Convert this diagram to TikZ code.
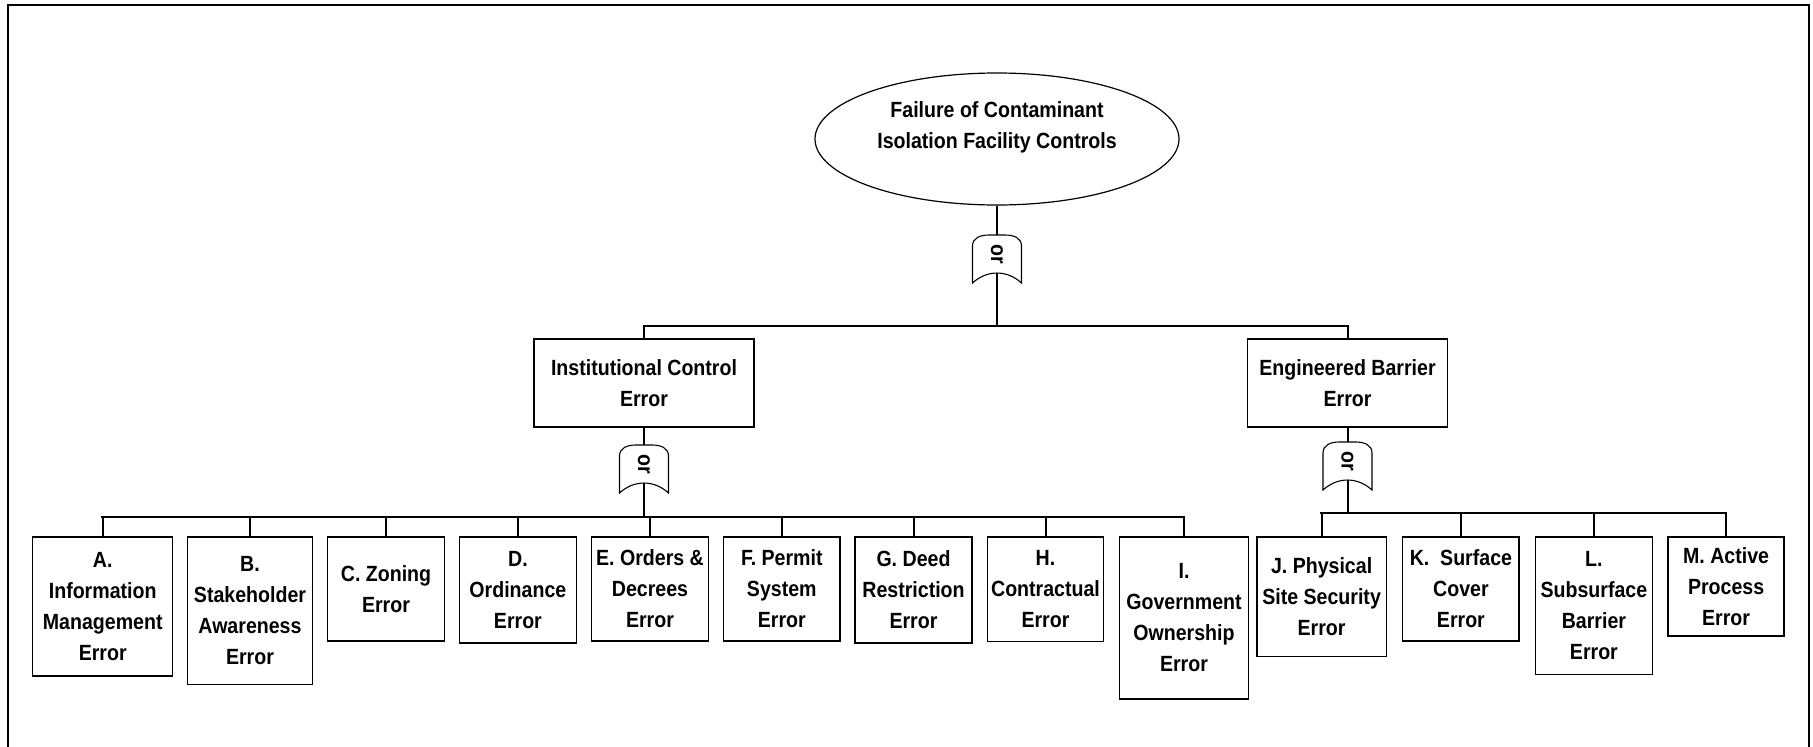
\documentclass[tikz,border=0pt]{standalone}
\usepackage{fontspec}
\setmainfont{Liberation Sans}[FakeStretch=0.89]
\usetikzlibrary{shapes.geometric}
\begin{document}
\begin{tikzpicture}[x=1pt,y=-1pt,
  every node/.style={font=\bfseries\fontsize{22}{31}\selectfont, align=center, inner sep=0pt},
  box/.style={draw, rectangle, line width=1.4pt},
  link/.style={line width=2pt},
  bus/.style={line width=2.6pt, line cap=rect},
  pics/orgate/.style={code={
    \draw[line width=1.1pt, fill=white]
      (-24.5,24) -- (-24.5,-13)
      .. controls (-24.5,-21) and (-17,-24) .. (-8,-24) -- (8,-24)
      .. controls (17,-24) and (24.5,-21) .. (24.5,-13) -- (24.5,24)
      .. controls (10,10.7) and (-10,10.7) .. (-24.5,24) -- cycle;
    \node[rotate=-90] (-lbl) at (0,-5) {or};
    \coordinate (-in) at (0,-24);
    \coordinate (-out) at (0,14);
  }}
]
\useasboundingbox (0,0) rectangle (1813,747);
% outer frame
\draw[line width=2.2pt] (8,760) -- (8,5) -- (1809,5) -- (1809,760);

% top event
\node[ellipse, draw, line width=1.2pt, minimum width=364pt, minimum height=132pt] (top) at (997,139) {};
\node (toptext) at (997,127) {Failure of Contaminant\\Isolation Facility Controls};
\pic (g1) at (997,259) {orgate};
\coordinate (bus1) at (997,326);

% intermediate events
\node[box, minimum width=220pt, minimum height=88pt] (inst) at (644,383) {Institutional Control\\Error};
\node[box, minimum width=200pt, minimum height=88pt] (eng) at (1347.5,383) {Engineered Barrier\\Error};
\pic (g2) at (644,469) {orgate};
\pic (g3) at (1347.5,466) {orgate};
\coordinate (bus2) at (644,517);
\coordinate (bus3) at (1347.5,513);

% basic events
\node[box, minimum width=140pt, minimum height=139pt] (a) at (102.7,606.5) {A.\\Information\\Management\\Error};
\node[box, minimum width=124.6pt, minimum height=147.3pt] (b) at (250,610.6) {B.\\Stakeholder\\Awareness\\Error};
\node[box, minimum width=116.6pt, minimum height=104pt] (c) at (386,589) {C. Zoning\\Error};
\node[box, minimum width=117pt, minimum height=106pt] (d) at (517.9,590) {D.\\Ordinance\\Error};
\node[box, minimum width=117pt, minimum height=104pt] (e) at (650,589) {E. Orders \&\\Decrees\\Error};
\node[box, minimum width=116.7pt, minimum height=104pt] (f) at (781.8,589) {F. Permit\\System\\Error};
\node[box, minimum width=117pt, minimum height=106pt] (g) at (913.5,590) {G. Deed\\Restriction\\Error};
\node[box, minimum width=116.4pt, minimum height=104.7pt] (h) at (1045.5,589.3) {H.\\Contractual\\Error};
\node[box, minimum width=129.4pt, minimum height=162.3pt] (i) at (1184,618) {I.\\Government\\Ownership\\Error};
\node[box, minimum width=129.6pt, minimum height=119.7pt] (j) at (1321.6,596.8) {J. Physical\\Site Security\\Error};
\node[box, minimum width=116.4pt, minimum height=104pt] (k) at (1460.9,589) {K.\ \ Surface\\Cover\\Error};
\node[box, minimum width=116.8pt, minimum height=137.3pt] (l) at (1593.9,605.6) {L.\\Subsurface\\Barrier\\Error};
\node[box, minimum width=116pt, minimum height=99pt] (m) at (1726.1,586.5) {M. Active\\Process\\Error};

% top gate connections
\draw[link] (top.south) -- (g1-in);
\draw[link] (g1-out) -- (bus1);
\draw[bus] (inst.north |- bus1) -- (eng.north |- bus1);
\draw[link] (inst.north) -- (inst.north |- bus1);
\draw[link] (eng.north) -- (eng.north |- bus1);

% institutional control branch
\draw[link] (inst.south) -- (g2-in);
\draw[link] (g2-out) -- (bus2);
\draw[bus] (a.north |- bus2) -- (i.north |- bus2);
\foreach \n in {a,b,c,d,e,f,g,h,i}
  \draw[link] (\n.north) -- (\n.north |- bus2);

% engineered barrier branch
\draw[link] (eng.south) -- (g3-in);
\draw[link] (g3-out) -- (bus3);
\draw[bus] (j.north |- bus3) -- (m.north |- bus3);
\foreach \n in {j,k,l,m}
  \draw[link] (\n.north) -- (\n.north |- bus3);
\end{tikzpicture}
\end{document}
